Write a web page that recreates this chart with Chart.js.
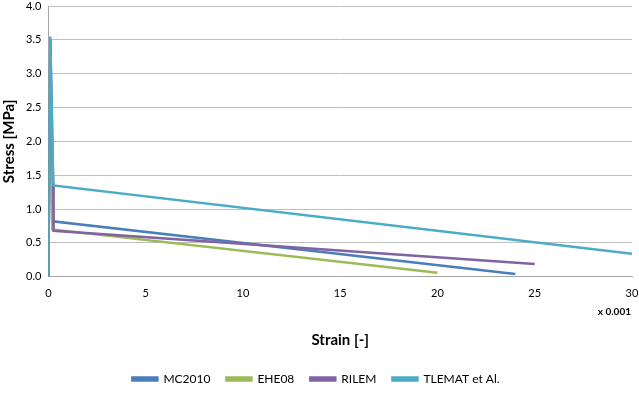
<!DOCTYPE html>
<html>
<head>
<meta charset="utf-8">
<script src="https://cdn.jsdelivr.net/npm/chart.js@4.4.1/dist/chart.umd.min.js"></script>
<style>
  html, body { margin: 0; padding: 0; background: #fff; }
  #wrap { width: 639px; height: 393px; }
</style>
</head>
<body>
<div id="wrap"><canvas id="stressChart"></canvas></div>
<script>
// Data (strain in x 0.001, stress in MPa)
const seriesNames = ['MC2010', 'EHE08', 'RILEM', 'TLEMAT et Al.'];
const seriesColors = ['#4a7ebb', '#9bbb59', '#8064a2', '#4bacc6'];

const mc2010Strain = [0, 0.1, 0.22, 24];
const mc2010Stress = [0, 3.5, 0.82, 0.04];

const ehe08Strain = [0, 0.1, 0.2, 20];
const ehe08Stress = [0, 3.5, 0.7, 0.06];

const rilemStrain = [0, 0.1, 0.25, 0.27, 25];
const rilemStress = [0, 3.5, 1.38, 0.68, 0.19];

const tlematStrain = [0, 0.1, 0.25, 30];
const tlematStress = [0, 3.55, 1.35, 0.34];

const xTicks = [0, 5, 10, 15, 20, 25, 30];
const yTicks = [0, 0.5, 1, 1.5, 2, 2.5, 3, 3.5, 4];

function toPoints(xs, ys) {
    return xs.map(function (x, i) { return { x: x, y: ys[i] }; });
}

const allSeries = [
    toPoints(mc2010Strain, mc2010Stress),
    toPoints(ehe08Strain, ehe08Stress),
    toPoints(rilemStrain, rilemStress),
    toPoints(tlematStrain, tlematStress)
];

// later series are painted on top, like in the original spreadsheet chart
const datasets = allSeries.map(function (pts, i) {
    return {
        label: seriesNames[i],
        data: pts,
        order: allSeries.length - 1 - i,
        showLine: true,
        borderColor: seriesColors[i],
        backgroundColor: seriesColors[i],
        borderWidth: 2.5,
        pointRadius: 0,
        tension: 0
    };
});

const fontFamily = "Lato, 'Open Sans', sans-serif";

// draws the "x 0.001" multiplier under the right end of the x axis
const multiplierLabel = {
    id: 'multiplierLabel',
    afterDraw(chart) {
        const ctx = chart.ctx;
        const area = chart.chartArea;
        ctx.save();
        ctx.font = 'bold 10px ' + fontFamily;
        ctx.fillStyle = '#000';
        ctx.textAlign = 'right';
        ctx.textBaseline = 'middle';
        ctx.fillText('x 0.001', area.right - 1, area.bottom + 35);
        ctx.restore();
    }
};

const config = {
    type: 'scatter',
    data: { datasets: datasets },
    options: {
        responsive: true,
        maintainAspectRatio: false,
        animation: false,
        layout: { padding: { left: 0, right: 7, top: 6, bottom: 0 } },
        plugins: {
            legend: {
                position: 'bottom',
                maxHeight: 36,
                labels: {
                    boxWidth: 25,
                    boxHeight: 3,
                    padding: 16,
                    color: '#000',
                    font: { family: fontFamily, size: 12 },
                    sort: function (a, b) { return a.datasetIndex - b.datasetIndex; }
                }
            },
            tooltip: { enabled: false }
        },
        scales: {
            x: {
                type: 'linear',
                min: 0,
                max: 30,
                afterBuildTicks(axis) { axis.ticks = xTicks.map(function (v) { return { value: v }; }); },
                afterFit(axis) { axis.paddingRight = 0; axis.paddingLeft = 0; },
                grid: { display: false, drawTicks: false },
                border: { color: '#a6a6a6', width: 1 },
                ticks: {
                    color: '#000',
                    padding: 10,
                    font: { family: fontFamily, size: 11 }
                },
                title: {
                    display: true,
                    text: 'Strain [-]',
                    color: '#000',
                    padding: { top: 21, bottom: 8 },
                    font: { family: fontFamily, size: 15, weight: 'bold' }
                }
            },
            y: {
                type: 'linear',
                min: 0,
                max: 4,
                afterBuildTicks(axis) { axis.ticks = yTicks.map(function (v) { return { value: v }; }); },
                afterFit(axis) { axis.paddingTop = 0; axis.paddingBottom = 0; },
                grid: { color: '#bfbfbf', drawTicks: false },
                border: { color: '#a6a6a6', width: 1 },
                ticks: {
                    color: '#000',
                    padding: 7,
                    font: { family: fontFamily, size: 11 },
                    callback: function (v) { return v.toFixed(1); }
                },
                title: {
                    display: true,
                    text: 'Stress [MPa]',
                    color: '#000',
                    padding: { top: 0, bottom: 1 },
                    font: { family: fontFamily, size: 15, weight: 'bold' }
                }
            }
        }
    },
    plugins: [multiplierLabel]
};

const stressChart = new Chart(document.getElementById('stressChart'), config);
</script>
</body>
</html>
